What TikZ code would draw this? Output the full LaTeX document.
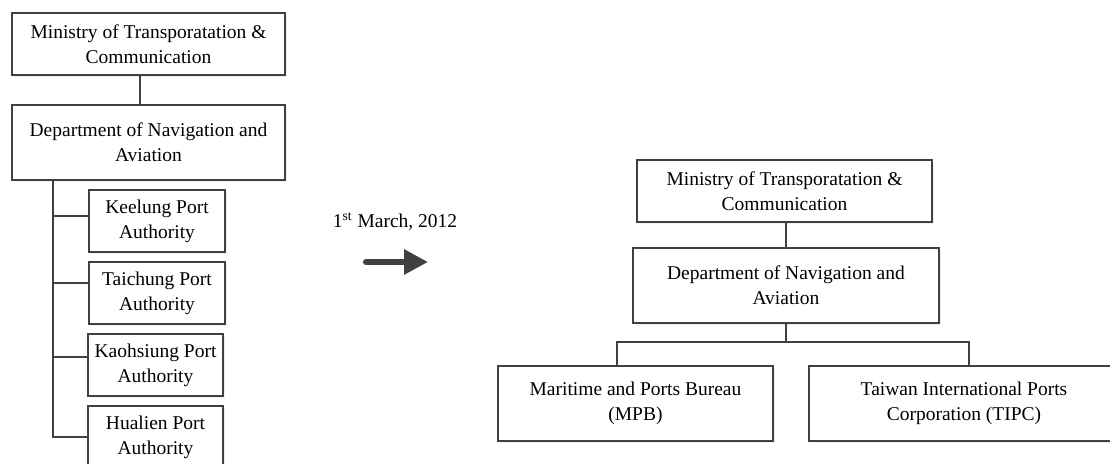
\documentclass[tikz,border=0pt]{standalone}
\usepackage{fontspec}
\setmainfont{Liberation Serif}
\usetikzlibrary{arrows.meta,shadows}

\begin{document}
\begin{tikzpicture}[x=0.5pt, y=-0.5pt]
		\tikzstyle{orgbox} = [rectangle, draw=black!75, line width=0.6pt, fill=white, align=center, inner sep=0pt, font=\fontsize{9.75}{12.5}\selectfont, drop shadow={shadow xshift=1.2pt, shadow yshift=-1.2pt, fill=black!12}]
		\tikzstyle{portbox} = [orgbox, minimum width=68pt, minimum height=31pt]
		\tikzstyle{link} = [draw=black!75, line width=0.6pt]
		\useasboundingbox (0,0) rectangle (1110,464);

		% Before: ministry and department
		\node (lmin) [orgbox, minimum width=136.5pt, minimum height=31pt] at (148.5,44) {Ministry of Transporatation \&\\Communication};
		\node (ldep) [orgbox, minimum width=136.5pt, minimum height=37.5pt] at (148.5,142.5) {Department of Navigation and\\Aviation};
		% Port authorities
		\node (kee) [portbox] at (157,221) {Keelung Port\\Authority};
		\node (tai) [portbox] at (157,293) {Taichung Port\\Authority};
		\node (kao) [portbox, minimum width=67.5pt] at (155.5,365) {Kaohsiung Port\\Authority};
		\node (hua) [portbox, minimum width=67.5pt] at (155.5,437) {Hualien Port\\Authority};

		\draw[link] ([xshift=-4.25pt]lmin.south) -- ([xshift=-4.25pt]ldep.north);
		\coordinate (trunk) at (53,180);
		\coordinate (keeb) at ([yshift=2.5pt]kee.west);
		\coordinate (taib) at ([yshift=5pt]tai.west);
		\coordinate (kaob) at ([yshift=4pt]kao.west);
		\draw[link] (trunk) |- (hua.west);
		\foreach \b in {keeb,taib,kaob}
		\draw[link] (\b -| trunk) -- (\b);

		% Change
		\node (date) [font=\fontsize{9.75}{12.5}\selectfont] at (395,222) {1\textsuperscript{st} March, 2012};
		\coordinate (arrs) at (366,262);
		\coordinate (arre) at (428,262);
		\draw[line width=3pt, black!75, line cap=round, -{Triangle[length=12pt,width=12pt]}] (arrs) -- (arre);

		% After: ministry and department
		\node (rmin) [orgbox, minimum width=147.5pt, minimum height=31pt] at (784.5,191) {Ministry of Transporatation \&\\Communication};
		\node (rdep) [orgbox, minimum width=153pt, minimum height=37.5pt] at (786,285.5) {Department of Navigation and\\Aviation};
		% Bureau and corporation
		\node (mpb) [orgbox, minimum width=137.5pt, minimum height=37.5pt] at (635.5,403.5) {Maritime and Ports Bureau\\(MPB)};
		\node (tipc) [orgbox, minimum width=155pt, minimum height=37.5pt] at (964,403.5) {Taiwan International Ports\\Corporation (TIPC)};

		\draw[link] (rdep.north) -- (rdep.north |- rmin.south);
		\coordinate (fork) at (786,342);
		\draw[link] (rdep.south) -- (fork);
		\draw[link] ([xshift=-9.25pt]mpb.north) |- (fork) -| ([xshift=2.5pt]tipc.north);
\end{tikzpicture}
\end{document}
